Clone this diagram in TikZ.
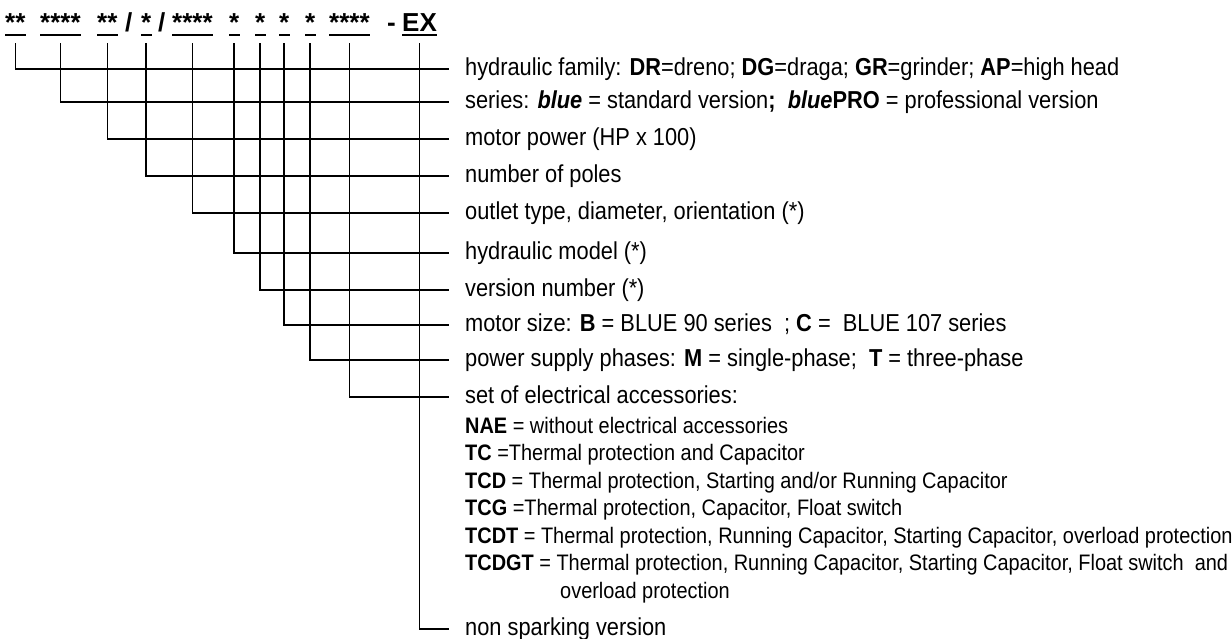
\documentclass[tikz,border=0pt]{standalone}
\usepackage{fontspec}
\setmainfont{Liberation Sans}[FakeStretch=0.89]
\newfontfamily\codefont{Liberation Sans}
\usetikzlibrary{positioning}
\tikzset{x=1pt, y=-1pt,
code/.style={ % header characters
font=\codefont\fontsize{26}{30}\selectfont\bfseries,
inner sep=0pt, anchor=base west},
uline/.style={line width=2.4pt},
wire/.style={line width=1.6pt},
label/.style={ % text at the end of each wire
font=\fontsize{24.5}{28}\selectfont,
anchor=west, inner xsep=16pt, inner ysep=0pt,
text height=17.7pt, text depth=5pt},
sub/.style={ % accessory list
font=\fontsize{22.4}{26}\selectfont,
inner sep=0pt, anchor=base west}}

\begin{document}
\begin{tikzpicture}
\useasboundingbox (0,0) rectangle (1232,639);
% code
\node[code] (cfam) at (5,31.5) {**};
\node[code] (cser) at (40,31.5) {****};
\node[code] (cpow) at (97,31.5) {**};
\node[code] (sl1) at (125,31.5) {/};
\node[code] (cpol) at (141,31.5) {*};
\node[code] (sl2) at (158,31.5) {/};
\node[code] (cout) at (172,31.5) {****};
\node[code] (chyd) at (229,31.5) {*};
\node[code] (cver) at (255,31.5) {*};
\node[code] (cmsz) at (279,31.5) {*};
\node[code] (cphs) at (305,31.5) {*};
\node[code] (cacc) at (329,31.5) {****};
\node[code] (dsh) at (387,31.5) {-};
\node[code] (cex) at (402,31.5) {EX};
\foreach \c in {cfam,cser,cpow,cpol,cout,chyd,cver,cmsz,cphs,cacc,cex}
  \draw[uline] ([yshift=-3.5pt]\c.base west) -- ([yshift=-3.5pt]\c.base east);

% meanings
\node[label] (fam) at (449,69) {hydraulic family: \textbf{DR}=dreno; \textbf{DG}=draga; \textbf{GR}=grinder; \textbf{AP}=high head};
\node[label] (ser) at (449,102) {series: \textbf{\textit{blue}} = standard version\textbf{;}\ \ \textbf{\textit{blue}PRO} = professional version};
\node[label] (pow) at (449,139) {motor power (HP x 100)};
\node[label] (pol) at (449,176) {number of poles};
\node[label] (out) at (449,213) {outlet type, diameter, orientation (*)};
\node[label] (hyd) at (449,253) {hydraulic model (*)};
\node[label] (ver) at (449,290) {version number (*)};
\node[label] (msz) at (449,325) {motor size: \textbf{B} = BLUE 90 series\ \ ; \textbf{C} =\ \ BLUE 107 series};
\node[label] (phs) at (449,360) {power supply phases: \textbf{M} = single-phase;\ \ \textbf{T} = three-phase};
\node[label] (acc) at (449,397) {set of electrical accessories:};
\node[label] (nsp) at (449,629) {non sparking version};

\node[sub] (nae) at (465,433) {\textbf{NAE} = without electrical accessories};
\node[sub] (tc) at (465,460) {\textbf{TC} =Thermal protection and Capacitor};
\node[sub] (tcd) at (465,488) {\textbf{TCD} = Thermal protection, Starting and/or Running Capacitor};
\node[sub] (tcg) at (465,515) {\textbf{TCG} =Thermal protection, Capacitor, Float switch};
\node[sub] (tcdt) at (465,543) {\textbf{TCDT} = Thermal protection, Running Capacitor, Starting Capacitor, overload protection};
\node[sub] (tcdgt) at (465,570) {\textbf{TCDGT} = Thermal protection, Running Capacitor, Starting Capacitor, Float switch\ \ and};
\node[sub] (tcdgt2) at (560,598) {overload protection};

% wires
\foreach \c/\l in {cfam/fam,cser/ser,cpow/pow,cpol/pol,cout/out,chyd/hyd,cver/ver,cmsz/msz,cphs/phs,cacc/acc,cex/nsp}
  \draw[wire] ([yshift=-12pt]\c.base) |- (\l.west);
\end{tikzpicture}
\end{document}
